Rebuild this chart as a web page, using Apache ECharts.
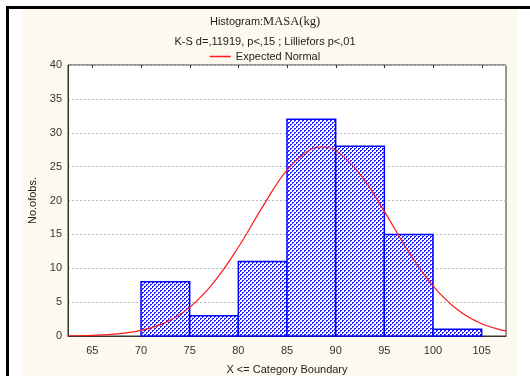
<!DOCTYPE html>
<html><head><meta charset="utf-8">
<script src="https://cdn.jsdelivr.net/npm/echarts@6/dist/echarts.min.js"></script>
<style>html,body{margin:0;padding:0;background:#fff;}#wrap{position:relative;width:530px;height:376px;overflow:hidden;}
#bg{position:absolute;left:22px;top:9px;width:495px;height:367px;background:#fdf9ef;}
#c{position:absolute;left:0;top:0;width:530px;height:376px;}
#lt{position:absolute;left:8px;top:6px;width:522px;height:3px;background:#000;}
#ll{position:absolute;left:6px;top:6px;width:3px;height:370px;background:#000;}
</style></head>
<body><div id="wrap"><div id="bg"></div><div id="lt"></div><div id="ll"></div><div id="c"></div></div>
<script>
// Histogram bins and observed counts
var binStarts = [65, 70, 75, 80, 85, 90, 95, 100];
var binEnds   = [70, 75, 80, 85, 90, 95, 100, 105];
var counts    = [0, 8, 3, 11, 32, 28, 15, 1];
// Expected normal curve
var curveX = [62.5, 65, 67.5, 70, 72.5, 75, 77.5, 80, 82.5, 85, 87.5, 88.6, 90, 92.5, 95, 97.5, 100, 102.5, 105, 107.5];
var curveY = [0.03, 0.1, 0.3, 0.82, 1.98, 4.23, 7.95, 13.1, 19.1, 24.5, 27.6, 27.9, 27.4, 23.9, 18.4, 12.4, 7.4, 3.9, 1.8, 0.73];
// x tick labels
var xTicks = [65, 70, 75, 80, 85, 90, 95, 100, 105];

var tile = document.createElement('canvas');
tile.width = 4; tile.height = 4;
var tc = tile.getContext('2d');
var img = tc.createImageData(4, 4);
for (var yy = 0; yy < 4; yy++) {
  for (var xx = 0; xx < 4; xx++) {
    var k = (yy * 4 + xx) * 4;
    var d = (xx + yy) % 4;
    var on = (d === 3) || (d === 2 && xx % 2 === 0);
    img.data[k] = on ? 30 : 255;
    img.data[k + 1] = on ? 30 : 255;
    img.data[k + 2] = 255;
    img.data[k + 3] = 255;
  }
}
tc.putImageData(img, 0, 0);

var histData = binStarts.map(function(s, i){ return [s, binEnds[i], counts[i]]; });
var curveData = curveX.map(function(x, i){ return [x, curveY[i]]; });
var tickData = xTicks.map(function(v){ return [v, 40]; });

var chart = echarts.init(document.getElementById('c'), null, {renderer: 'canvas'});
var font = 'Arial, "Liberation Sans", sans-serif';
var lbl = function(v){ return (xTicks.indexOf(v) >= 0) ? String(v) : ''; };
chart.setOption({
  animation: false,
  backgroundColor: 'transparent',
  textStyle: {fontFamily: font},
  title: [{
    text: '{a|Histogram:}{b|MASA(kg)}',
    left: 'center', top: 10,
    textStyle: {fontWeight: 'normal', rich: {
      a: {fontFamily: font, fontSize: 11, color: '#222', fontWeight: 'normal'},
      b: {fontFamily: '"Liberation Serif","Times New Roman",serif', fontSize: 12.5, color: '#222', fontWeight: 'normal'}
    }}
  }, {
    text: 'K-S d=,11919, p<,15 ; Lilliefors p<,01',
    left: 'center', top: 31,
    textStyle: {fontFamily: font, fontSize: 11, fontWeight: 'normal', color: '#222'}
  }],
  legend: {
    data: ['Expected Normal'], top: 46, left: 'center',
    icon: 'rect', itemWidth: 21, itemHeight: 1.5, itemGap: 6,
    textStyle: {fontFamily: font, fontSize: 11, color: '#222'}
  },
  grid: {left: 68, top: 65, width: 438, height: 271, show: true, borderColor: '#333', borderWidth: 1,
    backgroundColor: '#fff', containLabel: false, outerBoundsMode: 'none'},
  xAxis: {
    type: 'value', min: 62.5, max: 107.5, interval: 2.5,
    name: 'X <= Category Boundary', nameLocation: 'middle', nameGap: 28,
    nameTextStyle: {fontFamily: font, fontSize: 11, color: '#222'},
    axisLine: {show: true, lineStyle: {color: '#333'}},
    axisTick: {show: false},
    splitLine: {show: false},
    axisLabel: {formatter: lbl, fontSize: 11, color: '#333', margin: 9}
  },
  yAxis: {
    type: 'value', min: 0, max: 40, interval: 5,
    name: 'No.ofobs.', nameLocation: 'middle', nameGap: 30,
    nameTextStyle: {fontFamily: font, fontSize: 11, color: '#222'},
    axisLine: {show: true, lineStyle: {color: '#333'}},
    axisTick: {show: false},
    axisLabel: {fontSize: 11, color: '#333', margin: 6},
    splitLine: {show: true, lineStyle: {color: '#bbb', type: [2, 2], width: 1}}
  },
  series: [{
    type: 'custom',
    data: histData,
    renderItem: function(params, api){
      var p0 = api.coord([api.value(0), api.value(2)]);
      var p1 = api.coord([api.value(1), 0]);
      if (api.value(2) <= 0) return null;
      return {type: 'rect', shape: {x: p0[0], y: p0[1], width: p1[0]-p0[0], height: p1[1]-p0[1]},
        style: {fill: {image: tile, repeat: 'repeat'}, stroke: '#0000ff', lineWidth: 1.5}};
    },
    encode: {x: [0, 1], y: 2},
    z: 2
  }, {
    type: 'custom',
    data: tickData,
    silent: true,
    renderItem: function(params, api){
      var p = api.coord([api.value(0), api.value(1)]);
      return {type: 'line', shape: {x1: Math.round(p[0]) + 0.5, y1: p[1], x2: Math.round(p[0]) + 0.5, y2: p[1] + 3},
        style: {stroke: '#333', lineWidth: 1}};
    },
    encode: {x: 0, y: 1},
    z: 4
  }, {
    name: 'Expected Normal',
    type: 'line', data: curveData, smooth: 0.4, showSymbol: false, symbol: 'none',
    lineStyle: {color: '#ff1a1a', width: 1.2}, itemStyle: {color: '#ff1a1a'},
    z: 3
  }]
});
</script></body></html>
